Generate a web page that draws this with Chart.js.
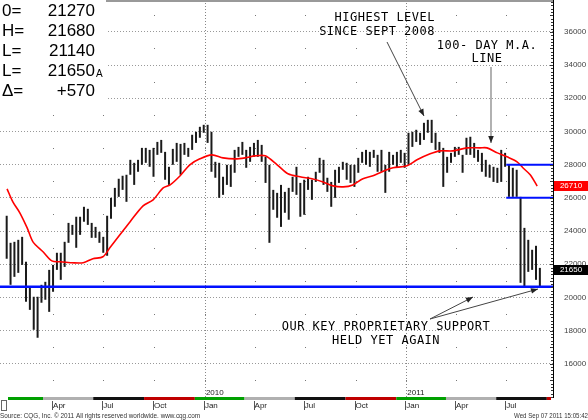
<!DOCTYPE html>
<html>
<head>
<meta charset="utf-8">
<script src="https://cdn.jsdelivr.net/npm/chart.js@4.4.0/dist/chart.umd.min.js"></script>
<style>
  html, body { margin: 0; padding: 0; background: #fff; }
  #wrap { width: 588px; height: 420px; }
</style>
</head>
<body>
<div id="wrap"><canvas id="chart" width="588" height="420"></canvas></div>
<script>
// weekly bars, index 0 = first week of Jan 2009
const barHigh = [24920, 23290, 23350, 23470, 23650, 22150, 20580, 20040, 20040, 20760,
  20940, 21660, 21960, 22690, 22690, 23350, 24490, 24370, 24860, 24860,
  25460, 25340, 24490, 24250, 23950, 23650, 24920, 26000, 26600, 27150,
  27330, 27390, 28290, 28110, 28290, 29010, 29010, 28890, 29010, 29370,
  29490, 28770, 27870, 28950, 29310, 29250, 29310, 29010, 29800, 29980,
  30280, 30400, 30400, 29980, 28170, 28110, 27270, 27990, 27990, 28890,
  29070, 29370, 28890, 29070, 29310, 29490, 29190, 28470, 27990, 26480,
  26300, 26780, 26360, 26600, 27270, 27870, 26900, 27090, 27270, 27090,
  27570, 28410, 28290, 27210, 26960, 27690, 27870, 28170, 28110, 27990,
  27990, 28410, 28770, 28890, 28770, 28890, 28590, 28890, 27990, 28770,
  28590, 28770, 28890, 28710, 29920, 29980, 30100, 29920, 30520, 30700,
  30700, 29920, 29370, 29010, 28470, 28710, 29070, 29070, 28590, 29620,
  29680, 29310, 28890, 28710, 28290, 27990, 27870, 27810, 28890, 28710,
  27990, 27810, 27690, 26060, 24190, 23470, 22870, 23110, 21780];

const barLow = [22330, 20760, 21240, 21480, 21960, 19740, 19250, 18050, 17570, 19680,
  19860, 19130, 20340, 21660, 21060, 21840, 23290, 23770, 22990, 23770,
  24560, 24370, 23590, 23590, 23290, 22690, 22510, 24740, 25460, 26060,
  26480, 25760, 27390, 26780, 27570, 27990, 28110, 27870, 27270, 28590,
  28710, 27090, 26780, 27990, 28170, 27390, 28590, 28470, 28890, 29310,
  29620, 29920, 29310, 27570, 27210, 26000, 26180, 26780, 26660, 27510,
  28470, 28590, 27810, 28170, 28470, 28470, 28170, 26900, 23290, 25280,
  24800, 24250, 25100, 24680, 26360, 26180, 24860, 24980, 26480, 25880,
  26960, 27510, 26780, 26360, 25460, 26000, 26900, 27690, 27090, 26900,
  26660, 27510, 28110, 27990, 27870, 28410, 27570, 27570, 26300, 27570,
  27990, 27810, 28110, 27810, 27990, 29070, 29370, 29190, 29490, 29920,
  29310, 28890, 28710, 26660, 27510, 28110, 28470, 28590, 27510, 28590,
  28590, 28410, 28170, 27570, 27270, 27210, 26960, 26900, 26960, 27870,
  26060, 26060, 26060, 20880, 20640, 21540, 21660, 21060, 20580];

const maWeek = [0.1, 1.6, 3.4, 5.3, 6.8, 9.4, 11.7, 13.8, 16.9, 19.8,
  22.3, 24.9, 26.7, 29.3, 31.9, 35.3, 37.9, 40.5, 42.3, 44.9,
  47.4, 50.0, 53.1, 56.0, 59.1, 61.7, 64.3, 66.9, 70.0, 72.8,
  75.9, 79.0, 81.9, 84.5, 87.1, 89.6, 92.2, 94.8, 98.4, 100.0,
  103.6, 106.2, 109.6, 112.2, 115.5, 119.2, 122.5, 124.3, 127.0, 129.5,
  132.1, 133.6, 135.5, 137.3];
const maValue = [26540, 25760, 25100, 24190, 23350, 22750, 22200, 22150, 22090, 22090,
  22330, 22450, 22990, 23770, 24550, 25520, 25880, 26600, 26780, 27330,
  27990, 28350, 28590, 28410, 28350, 28410, 28530, 28530, 27990, 27450,
  27270, 27150, 26960, 26720, 26660, 26780, 27150, 27330, 27690, 27810,
  27930, 28290, 28650, 28830, 28830, 29010, 29010, 29010, 28710, 28470,
  28170, 27810, 27390, 26710];

// support / range lines
const supportLevel = 20650;
const rangeLevels = [28000, 26000];
const rangeStartWeek = 129.3;

// axis ticks
const yTicks = [16000, 18000, 20000, 22000, 24000, 26000, 28000, 30000, 32000, 34000, 36000];
const monthTickWeek = [12.0, 25.0, 38.16, 51.3, 64.16, 77.16, 90.3, 103.44, 116.3, 129.3];
const monthLabels = ['Apr', 'Jul', 'Oct', 'Jan', 'Apr', 'Jul', 'Oct', 'Jan', 'Apr', 'Jul'];
const yearTickWeek = [51.3, 103.44];
const yearLabels = ['2010', '2011'];
const quarterStart = [-0.84, 12.0, 25.0, 38.16, 51.3, 64.16, 77.16, 90.3, 103.44, 116.3, 129.3, 142.4];
const quarterColors = ['#00a000', '#b0b0b0', '#111111', '#c00000'];

// quote box
const quoteLabels = ['0=', 'H=', 'L=', 'L=', '\u0394='];
const quoteValues = ['21270', '21680', '21140', '21650', '+570'];
const lastPrice = 21650;
const lastMA = 26710;

function arrow(ctx, x1, y1, x2, y2) {
  ctx.beginPath();
  ctx.moveTo(x1, y1);
  ctx.lineTo(x2, y2);
  ctx.stroke();
  const a = Math.atan2(y2 - y1, x2 - x1), L = 7, W = 2.8;
  ctx.beginPath();
  ctx.moveTo(x2, y2);
  ctx.lineTo(x2 - L * Math.cos(a) + W * Math.sin(a), y2 - L * Math.sin(a) - W * Math.cos(a));
  ctx.lineTo(x2 - L * Math.cos(a) - W * Math.sin(a), y2 - L * Math.sin(a) + W * Math.cos(a));
  ctx.closePath();
  ctx.fill();
}

// squeeze a text line to a given width
function fitText(ctx, text, x, y, width, align) {
  const w = ctx.measureText(text).width;
  const k = Math.min(1, width / w);
  ctx.save();
  ctx.translate(align === 'right' ? x - w * k : x, y);
  ctx.scale(k, 1);
  ctx.textAlign = 'left';
  ctx.fillText(text, 0, 0);
  ctx.restore();
}

const overlay = {
  id: 'overlay',
  beforeDatasetsDraw(chart) {
    const { ctx, chartArea: a, scales: { x, y } } = chart;
    ctx.save();
    // year dotted lines
    ctx.strokeStyle = '#888';
    ctx.lineWidth = 1;
    ctx.setLineDash([1, 2]);
    yearTickWeek.forEach(w => {
      const px = Math.round(x.getPixelForValue(w)) + 0.5;
      ctx.beginPath();
      ctx.moveTo(px, a.top);
      ctx.lineTo(px, a.bottom);
      ctx.stroke();
    });
    ctx.setLineDash([]);
    // dots on odd thousands at quarter ticks
    ctx.fillStyle = '#777';
    monthTickWeek.forEach(w => {
      const px = Math.round(x.getPixelForValue(w));
      for (let v = 15000; v < 38000; v += 2000) {
        ctx.fillRect(px, Math.round(y.getPixelForValue(v)), 1, 1);
      }
    });
    ctx.restore();
  },
  afterDraw(chart) {
    const { ctx, chartArea: a, scales: { x, y } } = chart;
    ctx.save();

    // top border
    ctx.fillStyle = '#999';
    ctx.fillRect(0, 0, a.right, 2);

    // quote box
    ctx.fillStyle = '#fff';
    ctx.fillRect(0, 0, 106, 100);
    ctx.fillStyle = '#000';
    ctx.font = '17px "Liberation Sans", Arial, sans-serif';
    ctx.textBaseline = 'middle';
    quoteLabels.forEach((t, i) => {
      const yy = 11 + i * 20;
      ctx.textAlign = 'left';
      ctx.fillText(t, 2, yy);
      ctx.textAlign = 'right';
      ctx.fillText(quoteValues[i], 95, yy);
    });
    ctx.font = '10px "Liberation Sans", Arial, sans-serif';
    ctx.textAlign = 'left';
    ctx.fillText('A', 96, 74);

    // annotations
    ctx.fillStyle = '#000';
    ctx.font = '12px "DejaVu Sans Mono", monospace';
    ctx.letterSpacing = '0.5px';
    ctx.textAlign = 'right';
    ctx.fillText('HIGHEST LEVEL', 435, 18);
    ctx.fillText('SINCE SEPT 2008', 435, 32);
    ctx.textAlign = 'center';
    ctx.fillText('100- DAY M.A.', 487, 46);
    ctx.fillText('LINE', 487, 59);
    ctx.fillText('OUR KEY PROPRIETARY SUPPORT', 386, 327);
    ctx.fillText('HELD YET AGAIN', 386, 341);
    ctx.letterSpacing = '0px';

    ctx.strokeStyle = '#444';
    ctx.fillStyle = '#222';
    ctx.lineWidth = 1;
    arrow(ctx, 387, 42, 424, 116);
    arrow(ctx, 430, 319, 473, 297);
    arrow(ctx, 430, 319, 538, 289);
    ctx.strokeStyle = '#888';
    ctx.lineWidth = 1.3;
    arrow(ctx, 491, 67, 491, 143);

    // right axis minor ticks
    ctx.fillStyle = '#333';
    for (let v = 14000; v <= 37800; v += 200) {
      const py = Math.round(y.getPixelForValue(v));
      const len = v % 1000 === 0 ? 3 : 2;
      ctx.fillRect(a.right - len, py, len, 1);
    }

    // price boxes
    ctx.font = '8px "Liberation Sans", Arial, sans-serif';
    ctx.textAlign = 'center';
    ctx.textBaseline = 'middle';
    [[lastMA, '#ff0000'], [lastPrice, '#000000']].forEach(([v, c]) => {
      const py = Math.round(y.getPixelForValue(v));
      ctx.fillStyle = c;
      ctx.fillRect(a.right + 1, py - 5, 588 - a.right - 1, 10);
      ctx.fillStyle = '#fff';
      ctx.fillText(String(v), a.right + 18, py);
    });

    // quarter colour band under the plot
    for (let i = 0; i < quarterStart.length; i++) {
      const x1 = Math.max(8, x.getPixelForValue(quarterStart[i] - 2.6));
      const next = i + 1 < quarterStart.length ? quarterStart[i + 1] - 2.6 : x.max;
      const x2 = Math.min(a.right - 2, x.getPixelForValue(next));
      if (x2 <= x1) continue;
      ctx.fillStyle = quarterColors[i % 4];
      ctx.fillRect(x1, a.bottom, x2 - x1, 3);
    }
    ctx.strokeStyle = '#666';
    ctx.lineWidth = 1;
    ctx.strokeRect(1.5, a.bottom + 3.5, 5, 10);

    // month tick marks and year labels
    ctx.fillStyle = '#555';
    monthTickWeek.forEach(w => {
      const px = Math.round(x.getPixelForValue(w)) - 1;
      ctx.fillRect(px, a.bottom + 4, 1, 9);
    });
    ctx.fillStyle = '#222';
    ctx.font = '8px "Liberation Sans", Arial, sans-serif';
    ctx.textAlign = 'left';
    ctx.textBaseline = 'alphabetic';
    yearTickWeek.forEach((w, i) => {
      ctx.fillText(yearLabels[i], x.getPixelForValue(w) + 1, a.bottom - 2);
    });

    // footer
    ctx.fillStyle = '#333';
    ctx.font = '8px "Liberation Sans", Arial, sans-serif';
    ctx.textBaseline = 'middle';
    fitText(ctx, 'Source: CQG, Inc. \u00a9 2011 All rights reserved worldwide. www.cqg.com', 0, 416, 200, 'left');
    fitText(ctx, 'Wed Sep 07 2011 15:05:42', 588, 416, 74, 'right');

    ctx.restore();
  }
};

const ctx = document.getElementById('chart').getContext('2d');
const xMin = -1.73, xMax = 141.4;

new Chart(ctx, {
  type: 'bar',
  data: {
    datasets: [
      {
        type: 'bar',
        data: barHigh.map((h, i) => ({ x: i, y: [barLow[i], h] })),
        backgroundColor: '#1a1a1a',
        borderWidth: 0,
        inflateAmount: 0,
        barThickness: 2,
        order: 3
      },
      {
        type: 'line',
        data: maWeek.map((w, i) => ({ x: w, y: maValue[i] })),
        borderColor: '#ff0000',
        borderWidth: 1.6,
        pointRadius: 0,
        tension: 0.3,
        order: 2
      },
      {
        type: 'line',
        data: [{ x: xMin, y: supportLevel }, { x: xMax, y: supportLevel }],
        borderColor: '#0010ff',
        borderWidth: 2.5,
        pointRadius: 0,
        order: 1
      },
      ...rangeLevels.map(v => ({
        type: 'line',
        data: [{ x: rangeStartWeek, y: v }, { x: xMax, y: v }],
        borderColor: '#0010ff',
        borderWidth: 2,
        pointRadius: 0,
        order: 1
      }))
    ]
  },
  options: {
    responsive: false,
    animation: false,
    devicePixelRatio: 1,
    layout: { padding: 0 },
    plugins: { legend: { display: false }, tooltip: { enabled: false } },
    scales: {
      x: {
        type: 'linear',
        min: xMin,
        max: xMax,
        offset: false,
        afterFit: s => { s.height = 23; s.paddingLeft = 0; s.paddingRight = 0; },
        afterBuildTicks: s => { s.ticks = monthTickWeek.map(v => ({ value: v })); },
        grid: { display: false, drawTicks: false },
        border: { display: false },
        ticks: {
          autoSkip: false,
          maxRotation: 0,
          align: 'start',
          padding: 4,
          color: '#222',
          font: { family: '"Liberation Sans", Arial, sans-serif', size: 8 },
          callback: (v, i) => monthLabels[i]
        }
      },
      y: {
        position: 'right',
        min: 14000,
        max: 37920,
        beginAtZero: false,
        afterFit: s => { s.width = 35; s.paddingTop = 0; s.paddingBottom = 0; },
        afterBuildTicks: s => { s.ticks = yTicks.map(v => ({ value: v })); },
        grid: { color: '#999', lineWidth: 1, drawTicks: false },
        border: { display: true, color: '#000', width: 1, dash: [1, 2] },
        ticks: {
          padding: 11,
          color: '#444',
          font: { family: '"Liberation Sans", Arial, sans-serif', size: 8 },
          callback: v => String(v)
        }
      }
    }
  },
  plugins: [overlay]
});
</script>
</body>
</html>
